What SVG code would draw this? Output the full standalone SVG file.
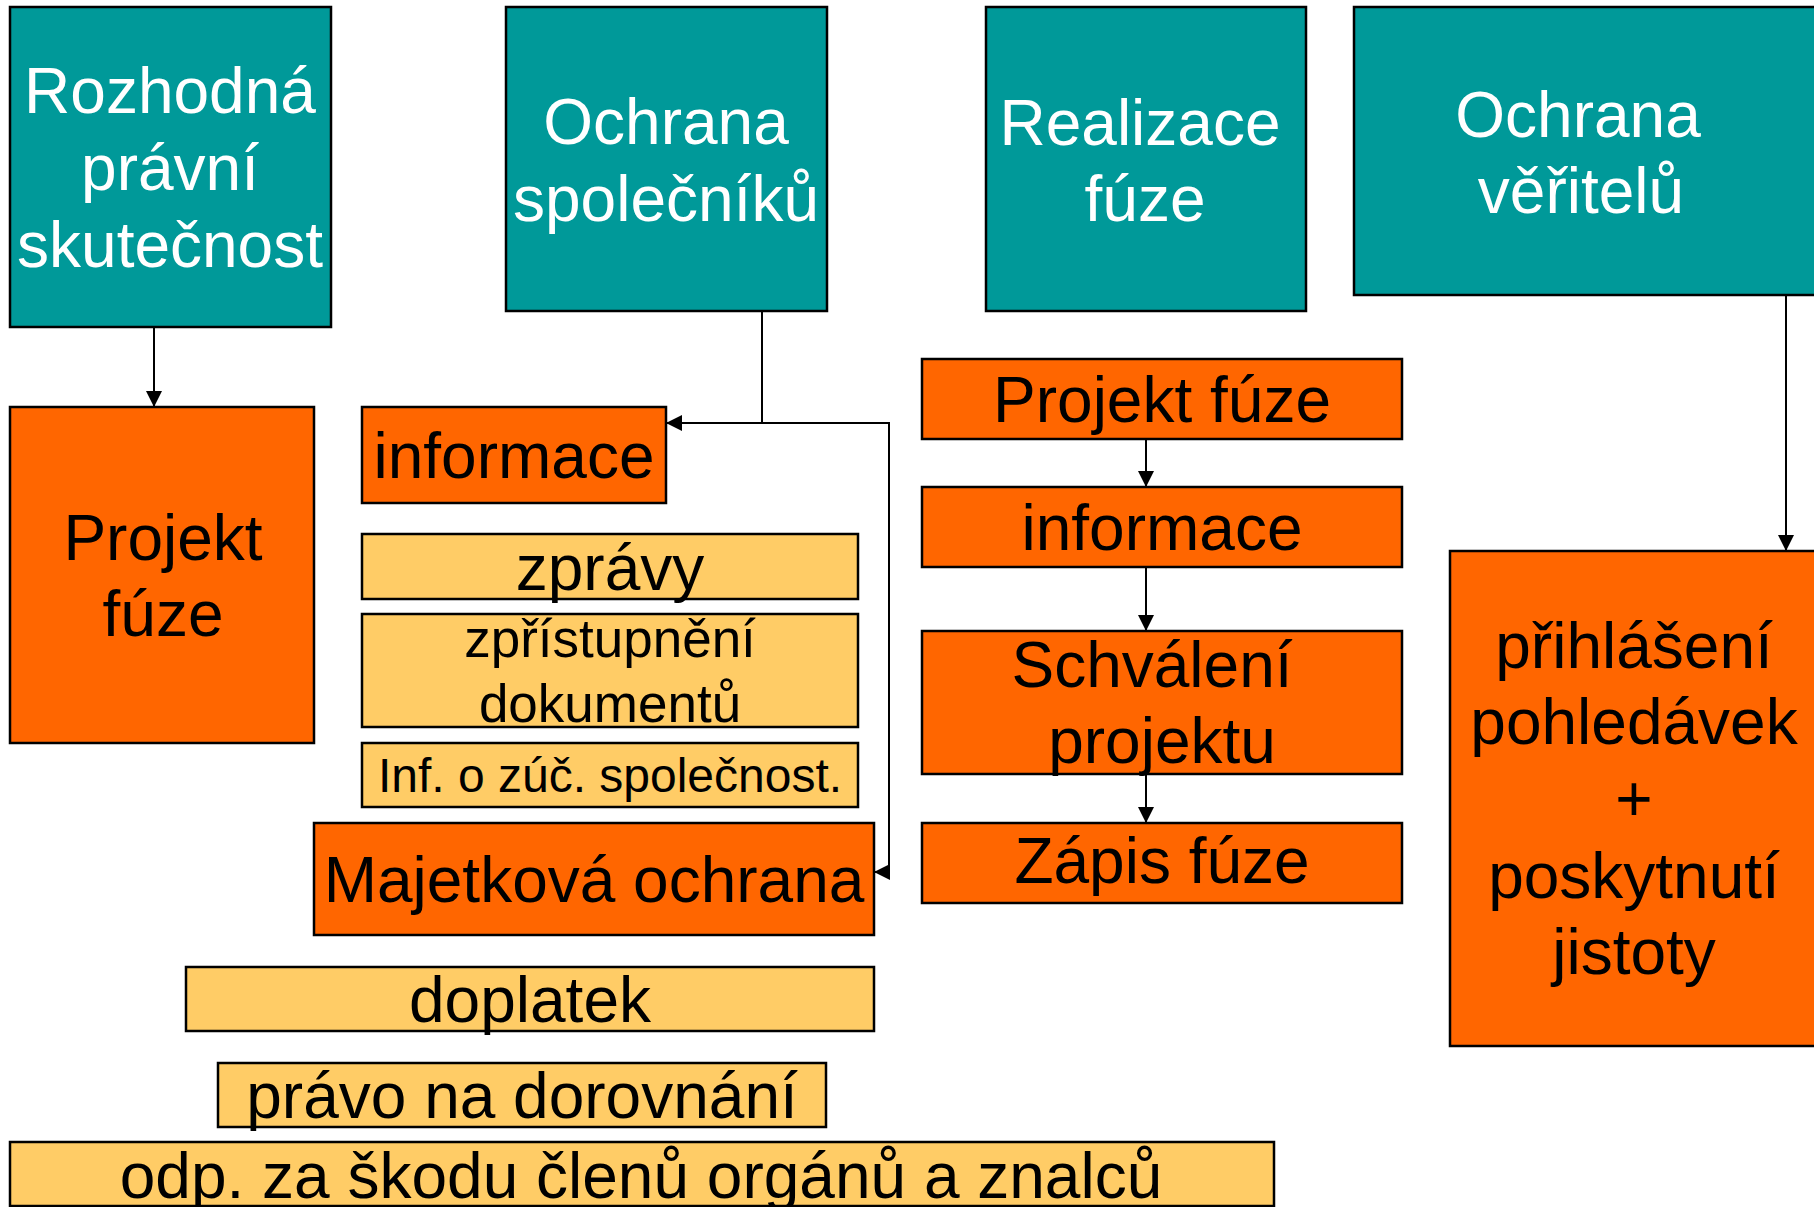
<svg xmlns="http://www.w3.org/2000/svg" width="1814" height="1207" viewBox="0 0 1814 1207">
<style>
rect{stroke:#000;stroke-width:2.5}
.teal{fill:#009999}
.org{fill:#FF6600}
.lt{fill:#FFCC66}
text{font-family:"Liberation Sans",Arial,sans-serif;font-size:64px;text-anchor:middle}
.w{fill:#fff}
.b{fill:#000}
.con{fill:none;stroke:#000;stroke-width:2}
</style>
<defs>
<marker id="ah" markerUnits="userSpaceOnUse" markerWidth="16" markerHeight="16" viewBox="0 0 16 16" refX="15" refY="8" orient="auto">
<path d="M0,0 L16,8 L0,16 Z" fill="#000"/>
</marker>
</defs>
<rect width="1814" height="1207" fill="#fff" style="stroke:none"/>
<g id="connectors">
<path class="con" d="M154,327 V406" marker-end="url(#ah)"/>
<path class="con" d="M762,311 V423 H667" marker-end="url(#ah)"/>
<path class="con" d="M762,423 H889 V872 H875" marker-end="url(#ah)"/>
<path class="con" d="M1146,439 V486" marker-end="url(#ah)"/>
<path class="con" d="M1146,567 V630" marker-end="url(#ah)"/>
<path class="con" d="M1146,774 V822" marker-end="url(#ah)"/>
<path class="con" d="M1786,295 V550" marker-end="url(#ah)"/>
</g>
<g id="rozhodna">
<rect class="teal" x="10" y="7" width="321" height="320"/>
<text class="w" x="170" y="113">Rozhodná</text>
<text class="w" x="170" y="190">právní</text>
<text class="w" x="170" y="267">skutečnost</text>
</g>
<g id="ochrana-spolecniku">
<rect class="teal" x="506" y="7" width="321" height="304"/>
<text class="w" x="666" y="144">Ochrana</text>
<text class="w" x="666" y="221">společníků</text>
</g>
<g id="realizace">
<rect class="teal" x="986" y="7" width="320" height="304"/>
<text class="w" x="1140" y="145">Realizace</text>
<text class="w" x="1145" y="221">fúze</text>
</g>
<g id="ochrana-veritelu">
<rect class="teal" x="1354" y="7" width="480" height="288"/>
<text class="w" x="1578" y="137">Ochrana</text>
<text class="w" x="1581" y="213">věřitelů</text>
</g>
<g id="projekt-fuze-l">
<rect class="org" x="10" y="407" width="304" height="336"/>
<text class="b" x="163" y="560">Projekt</text>
<text class="b" x="163" y="636">fúze</text>
</g>
<g id="informace-l">
<rect class="org" x="362" y="407" width="304" height="96"/>
<text class="b" x="514" y="478">informace</text>
</g>
<g id="zpravy">
<rect class="lt" x="362" y="534" width="496" height="65"/>
<text class="b" x="610" y="590">zprávy</text>
</g>
<g id="zpristupneni">
<rect class="lt" x="362" y="614" width="496" height="113"/>
<text class="b" x="610" y="657" style="font-size:53px">zpřístupnění</text>
<text class="b" x="610" y="722" style="font-size:53px">dokumentů</text>
</g>
<g id="inf-zuc">
<rect class="lt" x="362" y="743" width="496" height="64"/>
<text class="b" x="610" y="792" style="font-size:48px">Inf. o zúč. společnost.</text>
</g>
<g id="majetkova">
<rect class="org" x="314" y="823" width="560" height="112"/>
<text class="b" x="594" y="902">Majetková ochrana</text>
</g>
<g id="doplatek">
<rect class="lt" x="186" y="967" width="688" height="64"/>
<text class="b" x="530" y="1022">doplatek</text>
</g>
<g id="pravo">
<rect class="lt" x="218" y="1063" width="608" height="64"/>
<text class="b" x="522" y="1118">právo na dorovnání</text>
</g>
<g id="odp">
<rect class="lt" x="10" y="1142" width="1264" height="64"/>
<text class="b" x="641" y="1198">odp. za škodu členů orgánů a znalců</text>
</g>
<g id="projekt-fuze-r">
<rect class="org" x="922" y="359" width="480" height="80"/>
<text class="b" x="1162" y="422">Projekt fúze</text>
</g>
<g id="informace-r">
<rect class="org" x="922" y="487" width="480" height="80"/>
<text class="b" x="1162" y="550">informace</text>
</g>
<g id="schvaleni">
<rect class="org" x="922" y="631" width="480" height="143"/>
<text class="b" x="1152" y="687">Schválení</text>
<text class="b" x="1162" y="763">projektu</text>
</g>
<g id="zapis">
<rect class="org" x="922" y="823" width="480" height="80"/>
<text class="b" x="1162" y="883">Zápis fúze</text>
</g>
<g id="prihlaseni">
<rect class="org" x="1450" y="551" width="380" height="495"/>
<text class="b" x="1634" y="668">přihlášení</text>
<text class="b" x="1634" y="744">pohledávek</text>
<text class="b" x="1634" y="821">+</text>
<text class="b" x="1634" y="898">poskytnutí</text>
<text class="b" x="1634" y="974">jistoty</text>
</g>
</svg>
